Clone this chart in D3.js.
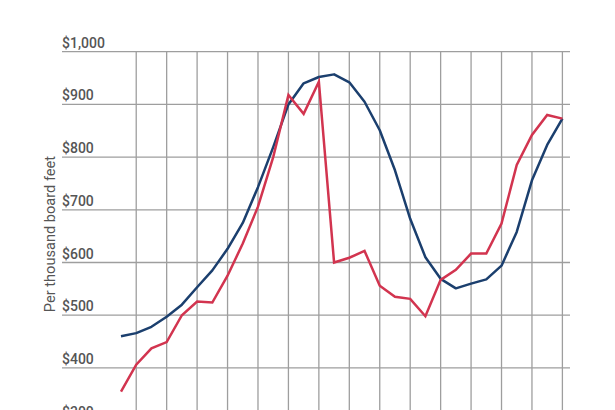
<!DOCTYPE html>
<html>
<head>
<meta charset="utf-8">
<script src="https://cdn.jsdelivr.net/npm/d3@7"></script>
<style>
  html, body { margin: 0; padding: 0; background: #fff; }
  svg { display: block; }
</style>
</head>
<body>
<div id="chart"></div>
<script>
// ---- Data ----
const periods = [0, 1, 2, 3, 4, 5, 6, 7, 8, 9, 10, 11, 12, 13, 14,
                 15, 16, 17, 18, 19, 20, 21, 22, 23, 24, 25, 26, 27, 28, 29];
const redSeries = [355, 406, 437, 449, 500, 526, 524, 575, 636, 706,
                   800, 918, 882, 943, 600, 609, 622, 556, 535, 531,
                   498, 567, 586, 617, 617, 674, 785, 842, 880, 873];
const blueSeries = [460, 466, 478, 497, 520, 553, 585, 626, 675, 743,
                    819, 900, 940, 952, 957, 942, 905, 851, 775, 683,
                    610, 569, 551, 560, 568, 594, 658, 756, 823, 873];
const yTicks = [300, 400, 500, 600, 700, 800, 900, 1000];
const gridPeriods = periods.filter(p => p % 2 === 1);

const W = 615, H = 410;

const svg = d3.select('#chart').append('svg')
  .attr('width', W)
  .attr('height', H);

// ---- Scales ----
const x = d3.scaleLinear().domain([0, 29]).range([121, 562.4]);
const y = d3.scaleLinear().domain([300, 1000]).range([420.6, 51.7]);

const gridColor = '#9e9e9e';
const textColor = '#555';

// ---- Horizontal grid + labels ----
const gridL = 62, gridR = 570;
svg.append('g').selectAll('line')
  .data(yTicks)
  .enter().append('line')
  .attr('x1', gridL).attr('x2', gridR)
  .attr('y1', d => y(d)).attr('y2', d => y(d))
  .attr('stroke', gridColor)
  .attr('stroke-width', 1.3);

svg.append('g').selectAll('text')
  .data(yTicks)
  .enter().append('text')
  .attr('x', gridL)
  .attr('y', d => y(d) - 4)
  .style('font-family', 'Roboto, sans-serif')
  .style('font-size', '14px')
  .style('font-weight', '500')
  .style('fill', textColor)
  .text(d => d3.format('$,')(d));

// ---- Vertical grid ----
svg.append('g').selectAll('line')
  .data(gridPeriods)
  .enter().append('line')
  .attr('x1', d => x(d)).attr('x2', d => x(d))
  .attr('y1', y(1000)).attr('y2', y(300))
  .attr('stroke', gridColor)
  .attr('stroke-width', 1.3);

// ---- Axis title ----
svg.append('text')
  .attr('transform', 'rotate(-90)')
  .attr('x', -234)
  .attr('y', 54.5)
  .attr('text-anchor', 'middle')
  .style('font-family', 'Roboto, sans-serif')
  .style('font-size', '14.6px')
  .style('fill', textColor)
  .text('Per thousand board feet');

// ---- Lines ----
const line = d3.line()
  .x((d, i) => x(periods[i]))
  .y(d => y(d));

svg.append('path')
  .datum(blueSeries)
  .attr('d', line)
  .attr('fill', 'none')
  .attr('stroke', '#1b3f6e')
  .attr('stroke-width', 2.5)
  .attr('stroke-linejoin', 'round');

svg.append('path')
  .datum(redSeries)
  .attr('d', line)
  .attr('fill', 'none')
  .attr('stroke', '#d2344f')
  .attr('stroke-width', 2.5)
  .attr('stroke-linejoin', 'miter');
</script>
</body>
</html>
